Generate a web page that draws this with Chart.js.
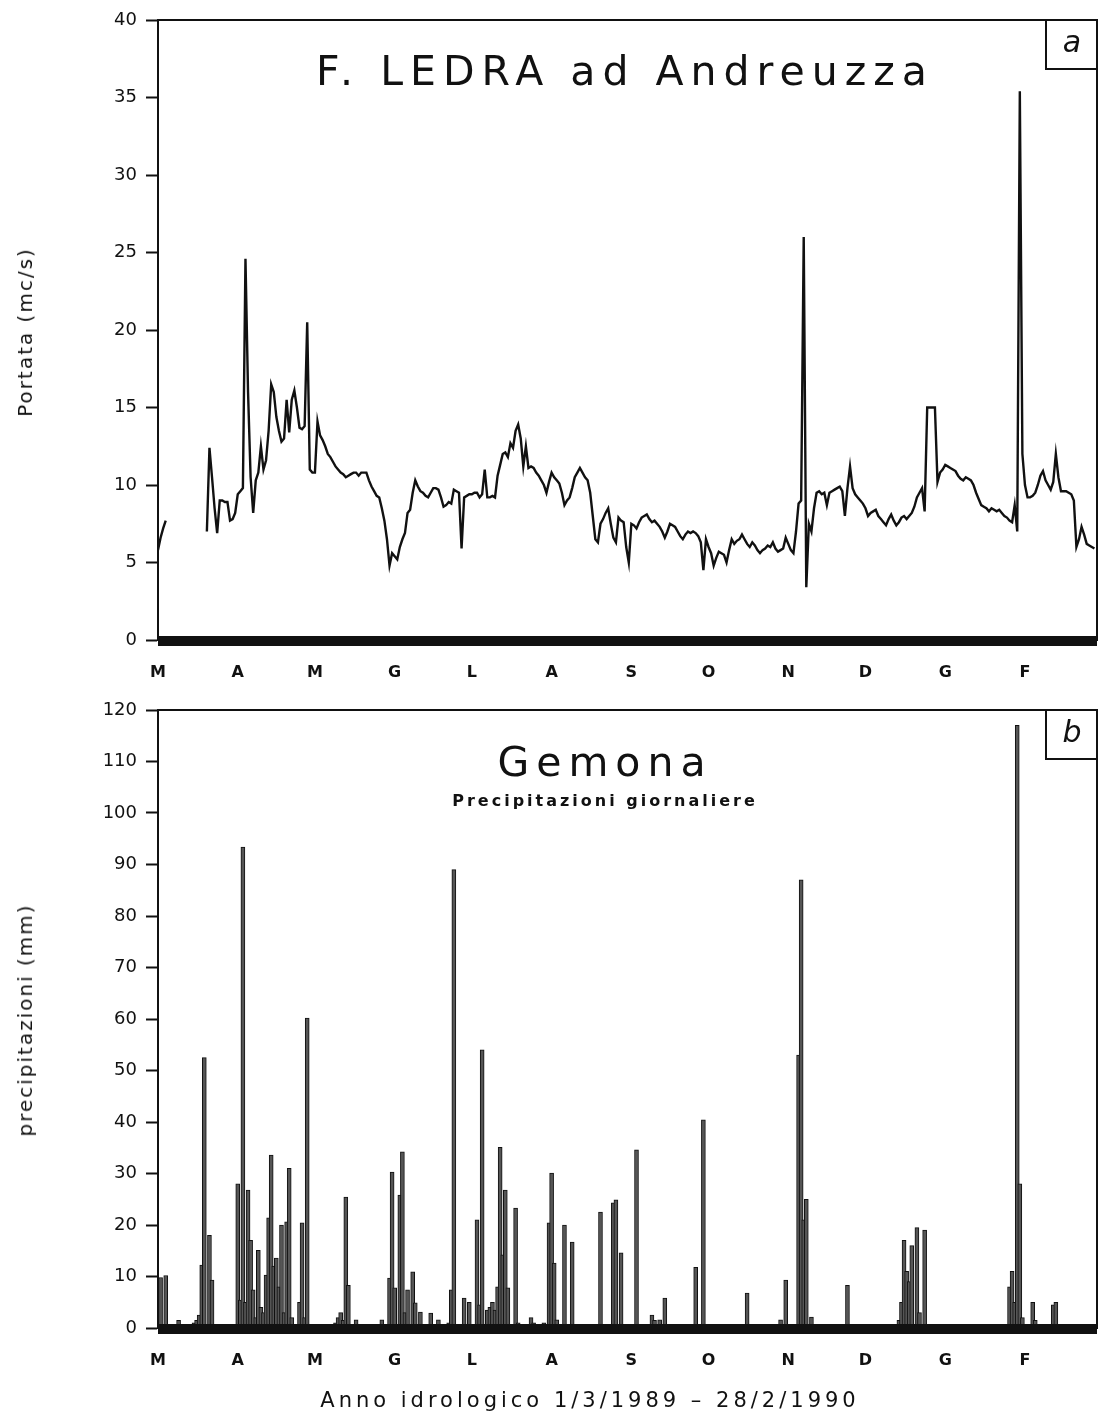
<!DOCTYPE html>
<html>
<head>
<meta charset="utf-8">
<script src="https://cdn.jsdelivr.net/npm/chart.js@4.4.1/dist/chart.umd.min.js"></script>
<style>
  body { margin: 0; background: #fff; }
  #wrap { position: relative; width: 1100px; height: 1415px; font-family: 'DejaVu Sans', sans-serif; color: #111; }
  .abs { position: absolute; white-space: nowrap; line-height: 1; }
  .ctr { transform: translateX(-50%); }
  .rot { transform: translate(-50%, -50%) rotate(-90deg); }
  .tag { position: absolute; width: 50px; height: 48px; border: 2px solid #111; border-top: none; border-right: none;
         font-style: italic; font-size: 30px; text-align: center; line-height: 44px; }
</style>
</head>
<body>
<div id="wrap">
  <canvas id="c1" width="1100" height="700" style="position:absolute;left:0;top:0"></canvas>
  <canvas id="c2" width="1100" height="725" style="position:absolute;left:0;top:690px"></canvas>

  <div class="abs ctr" style="left:625px;top:51px;font-size:41px;letter-spacing:7px">F. LEDRA ad Andreuzza</div>
  <div class="tag" style="left:1045px;top:20px">a</div>
  <div class="abs rot" style="left:25px;top:332px;font-size:20px;letter-spacing:2px">Portata (mc/s)</div>

  <div class="abs ctr" style="left:605px;top:742px;font-size:41px;letter-spacing:7px">Gemona</div>
  <div class="abs ctr" style="left:605px;top:793px;font-size:16px;font-weight:bold;letter-spacing:3px">Precipitazioni giornaliere</div>
  <div class="tag" style="left:1045px;top:710px">b</div>
  <div class="abs rot" style="left:25px;top:1020px;font-size:20px;letter-spacing:2px">precipitazioni (mm)</div>

  <div class="abs ctr" style="left:590px;top:1390px;font-size:21px;letter-spacing:4px">Anno idrologico 1/3/1989 &ndash; 28/2/1990</div>
</div>

<script>
// giorno dell'anno idrologico (0 = 1 marzo 1989) di inizio mese
const monthStart = [0, 31, 61, 92, 122, 153, 184, 214, 245, 275, 306, 337];
const monthLabel = ['M', 'A', 'M', 'G', 'L', 'A', 'S', 'O', 'N', 'D', 'G', 'F'];

// portata giornaliera (mc/s), un array per mese
const flowMar = [5.8, 6.6, 7.2, 7.7, null, null, null, null, null, null, null, null, null, null, null, null, null, null, null,
  7.0, 12.4, 10.5, 8.5, 6.9, 9.0, 9.0, 8.9, 8.9, 7.7, 7.8, 8.2];
const flowApr = [9.4, 9.6, 9.8, 24.6, 16.0, 10.5, 8.2, 10.3, 10.8, 12.5,
  11.0, 11.6, 13.5, 16.5, 16.0, 14.4, 13.5, 12.8, 13.0, 15.5,
  13.4, 15.5, 16.1, 15.0, 13.7, 13.6, 13.8, 20.5, 11.0, 10.8];
const flowMay = [10.8, 14.1, 13.2, 12.9, 12.5, 12.0, 11.8, 11.5, 11.2, 11.0,
  10.8, 10.7, 10.5, 10.6, 10.7, 10.8, 10.8, 10.6, 10.8, 10.8,
  10.8, 10.3, 9.9, 9.6, 9.3, 9.2, 8.5, 7.7, 6.5, 4.8, 5.6];
const flowJun = [5.4, 5.2, 6.0, 6.5, 6.9, 8.2, 8.4, 9.5, 10.3, 9.9,
  9.6, 9.5, 9.3, 9.2, 9.5, 9.8, 9.8, 9.7, 9.2, 8.6,
  8.7, 8.9, 8.8, 9.7, 9.6, 9.5, 5.9, 9.2, 9.3, 9.4];
const flowJul = [9.4, 9.5, 9.5, 9.2, 9.4, 11.0, 9.2, 9.2, 9.3, 9.2,
  10.6, 11.3, 12.0, 12.1, 11.8, 12.7, 12.4, 13.5, 13.9, 13.0,
  11.2, 12.5, 11.1, 11.2, 11.1, 10.8, 10.6, 10.3, 10.0, 9.5, 10.2];
const flowAug = [10.8, 10.5, 10.3, 10.1, 9.5, 8.7, 9.0, 9.2, 9.8, 10.5,
  10.8, 11.1, 10.8, 10.5, 10.3, 9.5, 8.0, 6.5, 6.3, 7.5,
  7.8, 8.2, 8.5, 7.5, 6.6, 6.3, 7.9, 7.7, 7.6, 6.0, 5.0];
const flowSep = [7.5, 7.4, 7.2, 7.6, 7.9, 8.0, 8.1, 7.8, 7.6, 7.7,
  7.5, 7.3, 7.0, 6.6, 7.0, 7.5, 7.4, 7.3, 7.0, 6.7,
  6.5, 6.8, 7.0, 6.9, 7.0, 6.9, 6.7, 6.3, 4.5, 6.5];
const flowOct = [6.0, 5.6, 4.8, 5.3, 5.7, 5.6, 5.5, 5.0, 5.8, 6.5,
  6.2, 6.4, 6.5, 6.8, 6.5, 6.2, 6.0, 6.3, 6.1, 5.8,
  5.6, 5.8, 5.9, 6.1, 6.0, 6.3, 5.9, 5.7, 5.8, 5.9, 6.6];
const flowNov = [6.2, 5.8, 5.6, 7.0, 8.8, 9.0, 26.0, 3.4, 7.5, 7.0,
  8.5, 9.5, 9.6, 9.4, 9.5, 8.7, 9.5, 9.6, 9.7, 9.8,
  9.9, 9.6, 8.0, 9.8, 11.2, 9.8, 9.4, 9.2, 9.0, 8.8];
const flowDec = [8.5, 8.0, 8.2, 8.3, 8.4, 8.0, 7.8, 7.6, 7.4, 7.8,
  8.1, 7.7, 7.4, 7.6, 7.9, 8.0, 7.8, 8.0, 8.2, 8.6,
  9.2, 9.5, 9.8, 8.3, 15.0, 15.0, 15.0, 15.0, 10.2, 10.8, 11.0];
const flowJan = [11.3, 11.2, 11.1, 11.0, 10.9, 10.6, 10.4, 10.3, 10.5, 10.4,
  10.3, 10.0, 9.5, 9.1, 8.7, 8.6, 8.5, 8.3, 8.5, 8.4,
  8.3, 8.4, 8.2, 8.0, 7.9, 7.7, 7.6, 8.7, 7.0, 35.4, 12.0];
const flowFeb = [10.0, 9.2, 9.2, 9.3, 9.5, 10.0, 10.6, 10.9, 10.3, 10.0,
  9.7, 10.2, 12.0, 10.5, 9.6, 9.6, 9.6, 9.5, 9.4, 9.0,
  6.0, 6.5, 7.3, 6.8, 6.2, 6.1, 6.0, 5.9];

// precipitazioni giornaliere a Gemona: giorno (0 = 1 marzo) e mm
const rainDay = [1, 3, 8, 14, 15, 16, 17, 18, 20, 21,
  31, 32, 33, 34, 35, 36, 37, 38, 39, 40, 41, 42, 43, 44, 45, 46, 47, 48, 49, 50, 51, 52, 55, 56, 57, 58,
  69, 70, 71, 72, 73, 74, 77, 87, 90, 91,
  92, 94, 95, 96, 97, 99, 100, 102, 106, 109, 113, 114, 115, 119, 121,
  124, 125, 126, 128, 129, 130, 131, 132, 133, 134, 135, 136, 139, 140, 145, 146, 150,
  152, 153, 154, 155, 158, 161, 172, 177, 178, 180,
  186, 192, 193, 195, 197, 209, 212, 229,
  242, 244, 249, 250, 251, 252, 254, 268,
  288, 289, 290, 291, 292, 293, 295, 296, 298,
  331, 332, 333, 334, 335, 336, 340, 341, 348, 349];
const rainMm = [9.8, 10.2, 1.5, 1.0, 1.5, 2.5, 12.2, 52.5, 18.0, 9.3,
  28.0, 5.4, 93.4, 5.0, 26.8, 17.0, 7.4, 2.0, 15.1, 4.0, 3.0, 10.3, 21.4, 33.6, 12.0, 13.6, 8.0, 20.0, 3.0, 20.6, 31.0, 2.0, 5.0, 20.4, 2.0, 60.2,
  1.0, 2.0, 3.0, 1.5, 25.4, 8.3, 1.6, 1.6, 9.7, 30.3,
  7.8, 25.8, 34.2, 3.0, 7.4, 10.9, 4.9, 3.1, 2.9, 1.6, 1.0, 7.4, 89.0, 5.8, 5.0,
  21.0, 4.5, 54.0, 3.5, 4.0, 5.0, 3.5, 8.0, 35.1, 14.2, 26.8, 7.8, 23.3, 1.0, 2.0, 1.0, 1.0,
  20.4, 30.1, 12.6, 1.6, 20.0, 16.7, 22.5, 24.3, 24.9, 14.6,
  34.6, 2.5, 1.5, 1.6, 5.8, 11.8, 40.4, 6.8,
  1.6, 9.3, 53.0, 87.0, 21.0, 25.0, 2.1, 8.3,
  1.5, 5.0, 17.0, 11.0, 9.0, 16.0, 19.5, 3.0, 19.0,
  8.0, 11.0, 5.0, 117.0, 28.0, 2.0, 5.0, 1.5, 4.5, 5.0];

const flow = [].concat(flowMar, flowApr, flowMay, flowJun, flowJul, flowAug,
  flowSep, flowOct, flowNov, flowDec, flowJan, flowFeb);
const flowPoints = flow.map((v, i) => ({x: i, y: v}));
const rainPoints = rainDay.map((d, i) => ({x: d, y: rainMm[i]}));

const INK = '#111';
const FONT = "'DejaVu Sans', sans-serif";

// cornice del grafico e banda nera sullo zero
const frame = {
  id: 'frame',
  afterDatasetsDraw(chart) {
    const {ctx, chartArea: a, scales: {y}} = chart;
    const y0 = y.getPixelForValue(0);
    ctx.save();
    ctx.fillStyle = INK;
    ctx.fillRect(a.left, y0 - 4, a.right - a.left, 10);
    ctx.strokeStyle = INK;
    ctx.lineWidth = 2;
    ctx.strokeRect(a.left, a.top, a.right - a.left, a.bottom - a.top);
    ctx.restore();
  },
};

function makeOptions(yMax, yStep, xAxisHeight) {
  return {
    responsive: false,
    animation: false,
    layout: {padding: {left: 0, right: 3, top: 20, bottom: 0}},
    plugins: {legend: {display: false}, tooltip: {enabled: false}},
    scales: {
      x: {
        type: 'linear',
        min: 0,
        max: 365,
        offset: false,
        grid: {display: false, drawTicks: false},
        border: {display: false},
        afterBuildTicks: (s) => { s.ticks = monthStart.map(v => ({value: v})); },
        afterFit: (s) => { s.height = xAxisHeight; },
        ticks: {
          autoSkip: false,
          maxRotation: 0,
          padding: 23,
          color: INK,
          font: {family: FONT, size: 16, weight: 'bold'},
          callback: (v, i) => monthLabel[i],
        },
      },
      y: {
        min: 0,
        max: yMax,
        grid: {drawOnChartArea: false, drawTicks: true, tickLength: 12, tickColor: INK, tickWidth: 2},
        border: {display: true, color: INK, width: 2},
        afterFit: (s) => { s.width = 158; },
        ticks: {stepSize: yStep, padding: 9, color: INK, font: {family: FONT, size: 18}},
      },
    },
  };
}

new Chart(document.getElementById('c1'), {
  type: 'line',
  data: {
    datasets: [{
      data: flowPoints,
      borderColor: INK,
      borderWidth: 2.4,
      pointRadius: 0,
      tension: 0,
      spanGaps: false,
    }],
  },
  options: makeOptions(40, 5, 60),
  plugins: [frame],
});

new Chart(document.getElementById('c2'), {
  type: 'bar',
  data: {
    datasets: [{
      data: rainPoints,
      backgroundColor: '#555',
      borderColor: INK,
      borderWidth: {left: 1, right: 1, top: 1, bottom: 0},
      borderSkipped: false,
      barThickness: 4,
    }],
  },
  options: makeOptions(120, 10, 87),
  plugins: [frame],
});
</script>
</body>
</html>
